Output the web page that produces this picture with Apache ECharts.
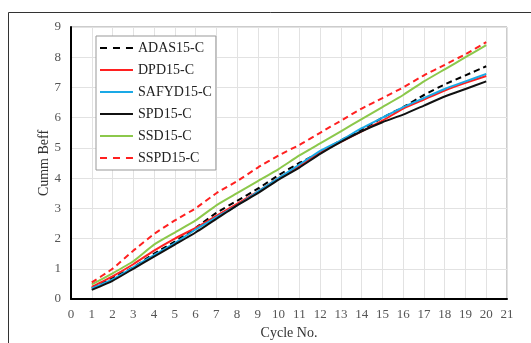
<!DOCTYPE html>
<html>
<head>
<meta charset="utf-8">
<script src="https://cdn.jsdelivr.net/npm/echarts@6/dist/echarts.min.js"></script>
<style>html,body{margin:0;padding:0;background:#fff}#c{width:531px;height:343px}</style>
</head>
<body>
<div id="c"></div>
<script>
var cycles = [1,2,3,4,5,6,7,8,9,10,11,12,13,14,15,16,17,18,19,20];
var ADAS15 = [0.35,0.7,1.05,1.5,1.9,2.35,2.85,3.25,3.65,4.1,4.5,4.85,5.25,5.6,6.0,6.35,6.75,7.1,7.4,7.7];
var DPD15  = [0.4,0.75,1.15,1.6,2.0,2.35,2.75,3.15,3.55,4.0,4.4,4.85,5.2,5.55,5.9,6.3,6.6,6.9,7.15,7.38];
var SAFYD15= [0.35,0.65,1.05,1.45,1.85,2.3,2.7,3.1,3.55,4.0,4.45,4.9,5.25,5.65,6.0,6.35,6.65,6.95,7.2,7.45];
var SPD15  = [0.3,0.6,1.0,1.4,1.8,2.2,2.65,3.1,3.5,3.95,4.35,4.8,5.2,5.55,5.85,6.1,6.4,6.7,6.95,7.2];
var SSD15  = [0.48,0.85,1.25,1.8,2.2,2.6,3.1,3.5,3.9,4.3,4.75,5.15,5.55,5.95,6.35,6.75,7.2,7.6,8.0,8.4];
var SSPD15 = [0.55,1.0,1.6,2.15,2.6,3.0,3.5,3.9,4.35,4.75,5.1,5.5,5.9,6.3,6.65,7.0,7.4,7.75,8.1,8.5];
var names = ['ADAS15-C','DPD15-C','SAFYD15-C','SPD15-C','SSD15-C','SSPD15-C'];

var bounds = 'M0,0h0.01v0.01h-0.01z M33,14h0.01v0.01h-0.01z ';
var solidIcon = 'path://' + bounds + 'M0,6h33v2h-33z';
var dashIcon = 'path://' + bounds + 'M0,6h7v2h-7z M13,6h7v2h-7z M26,6h7v2h-7z';

function pairs(v){ return cycles.map(function(c,i){ return [c, v[i]]; }); }
function mk(name, data, color, dashed){
  return {
    name: name, type: 'line', data: pairs(data), symbol: 'none', smooth: 0.15,
    lineStyle: { color: color, width: 2, type: dashed ? [6,4] : 'solid' },
    itemStyle: { color: color }
  };
}
var font = 'Liberation Serif';
var chart = echarts.init(document.getElementById('c'), null, {renderer: 'canvas'});
chart.setOption({
  animation: false,
  backgroundColor: '#fff',
  graphic: [{ type: 'rect', shape: { x: 8.5, y: 12.5, width: 600, height: 400 },
    style: { fill: 'none', stroke: '#333', lineWidth: 1 }, silent: true, z: -10 }],
  grid: { left: 71, right: 24, top: 27, bottom: 44, show: true, borderColor: '#999', borderWidth: 1,
          containLabel: false, outerBoundsMode: 'none' },
  legend: {
    orient: 'vertical', left: 96, top: 36,
    backgroundColor: '#fff', borderColor: '#999', borderWidth: 1,
    padding: [5, 4, 5, 4], itemGap: 8, itemWidth: 33, itemHeight: 14,
    textStyle: { fontFamily: font, fontSize: 14, color: '#222' },
    data: [
      { name: names[0], icon: dashIcon },
      { name: names[1], icon: solidIcon },
      { name: names[2], icon: solidIcon },
      { name: names[3], icon: solidIcon },
      { name: names[4], icon: solidIcon },
      { name: names[5], icon: dashIcon }
    ]
  },
  xAxis: {
    type: 'value', min: 0, max: 21, interval: 1,
    name: 'Cycle No.', nameLocation: 'middle', nameGap: 27, nameMoveOverlap: false,
    nameTextStyle: { fontFamily: font, fontSize: 14, color: '#333' },
    axisLine: { show: true, lineStyle: { color: '#000', width: 2 } },
    axisTick: { show: false },
    axisLabel: { fontFamily: font, fontSize: 13, color: '#555', margin: 9 },
    splitLine: { show: true, lineStyle: { color: '#e2e2e2', width: 1 } }
  },
  yAxis: {
    type: 'value', min: 0, max: 9, interval: 1,
    name: 'Cumm Beff', nameLocation: 'middle', nameGap: 20, nameMoveOverlap: false,
    nameTextStyle: { fontFamily: font, fontSize: 14, color: '#333' },
    axisLine: { show: true, lineStyle: { color: '#000', width: 2 } },
    axisTick: { show: false },
    axisLabel: { fontFamily: font, fontSize: 13, color: '#555', margin: 10 },
    splitLine: { show: true, lineStyle: { color: '#e2e2e2', width: 1 } }
  },
  series: [
    mk(names[0], ADAS15, '#000000', true),
    mk(names[1], DPD15, '#ff2020', false),
    mk(names[2], SAFYD15, '#1aa9e6', false),
    mk(names[3], SPD15, '#111111', false),
    mk(names[4], SSD15, '#8cc84b', false),
    mk(names[5], SSPD15, '#ff2020', true)
  ]
});
</script>
</body>
</html>
